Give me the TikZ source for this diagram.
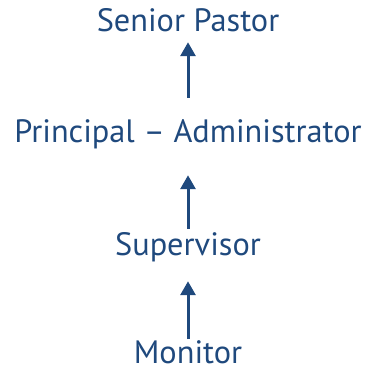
\documentclass[tikz,border=0pt]{standalone}
\usepackage{fontspec}
\setmainfont{PT Sans}
\usetikzlibrary{positioning}
\usetikzlibrary{arrows.meta}
\definecolor{rolecol}{RGB}{31,73,125}
\tikzset{
    role/.style = {inner sep=0pt, anchor=base, text=rolecol, text height=0.66cm, text depth=0.21cm, font=\fontsize{27.6}{30}\selectfont},
    upedge/.style = {-{Triangle[length=0.42cm,width=0.45cm]}, line width=0.09cm, draw=rolecol}
}
\begin{document}
\begin{tikzpicture}
%
\path[use as bounding box] (0,0) rectangle (11.01,-11.04);
%
\node[role] at (5.64,-0.96) (pastor) {Senior Pastor};
\node[role] at (5.64,-4.29) (principal) {Principal – Administrator};
\node[role] at (5.64,-7.65) (supervisor) {Supervisor};
\node[role, text depth=0pt] at (5.64,-10.9) (monitor) {Monitor};
%
\draw[upedge, shorten <=0.69cm, shorten >=0.09cm] (principal) -- (pastor);
\draw[upedge, shorten <=0.12cm, shorten >=0.75cm] (supervisor) -- (principal);
\draw[upedge, shorten <=0.06cm, shorten >=0.57cm] (monitor) -- (supervisor);

\end{tikzpicture}
\end{document}
